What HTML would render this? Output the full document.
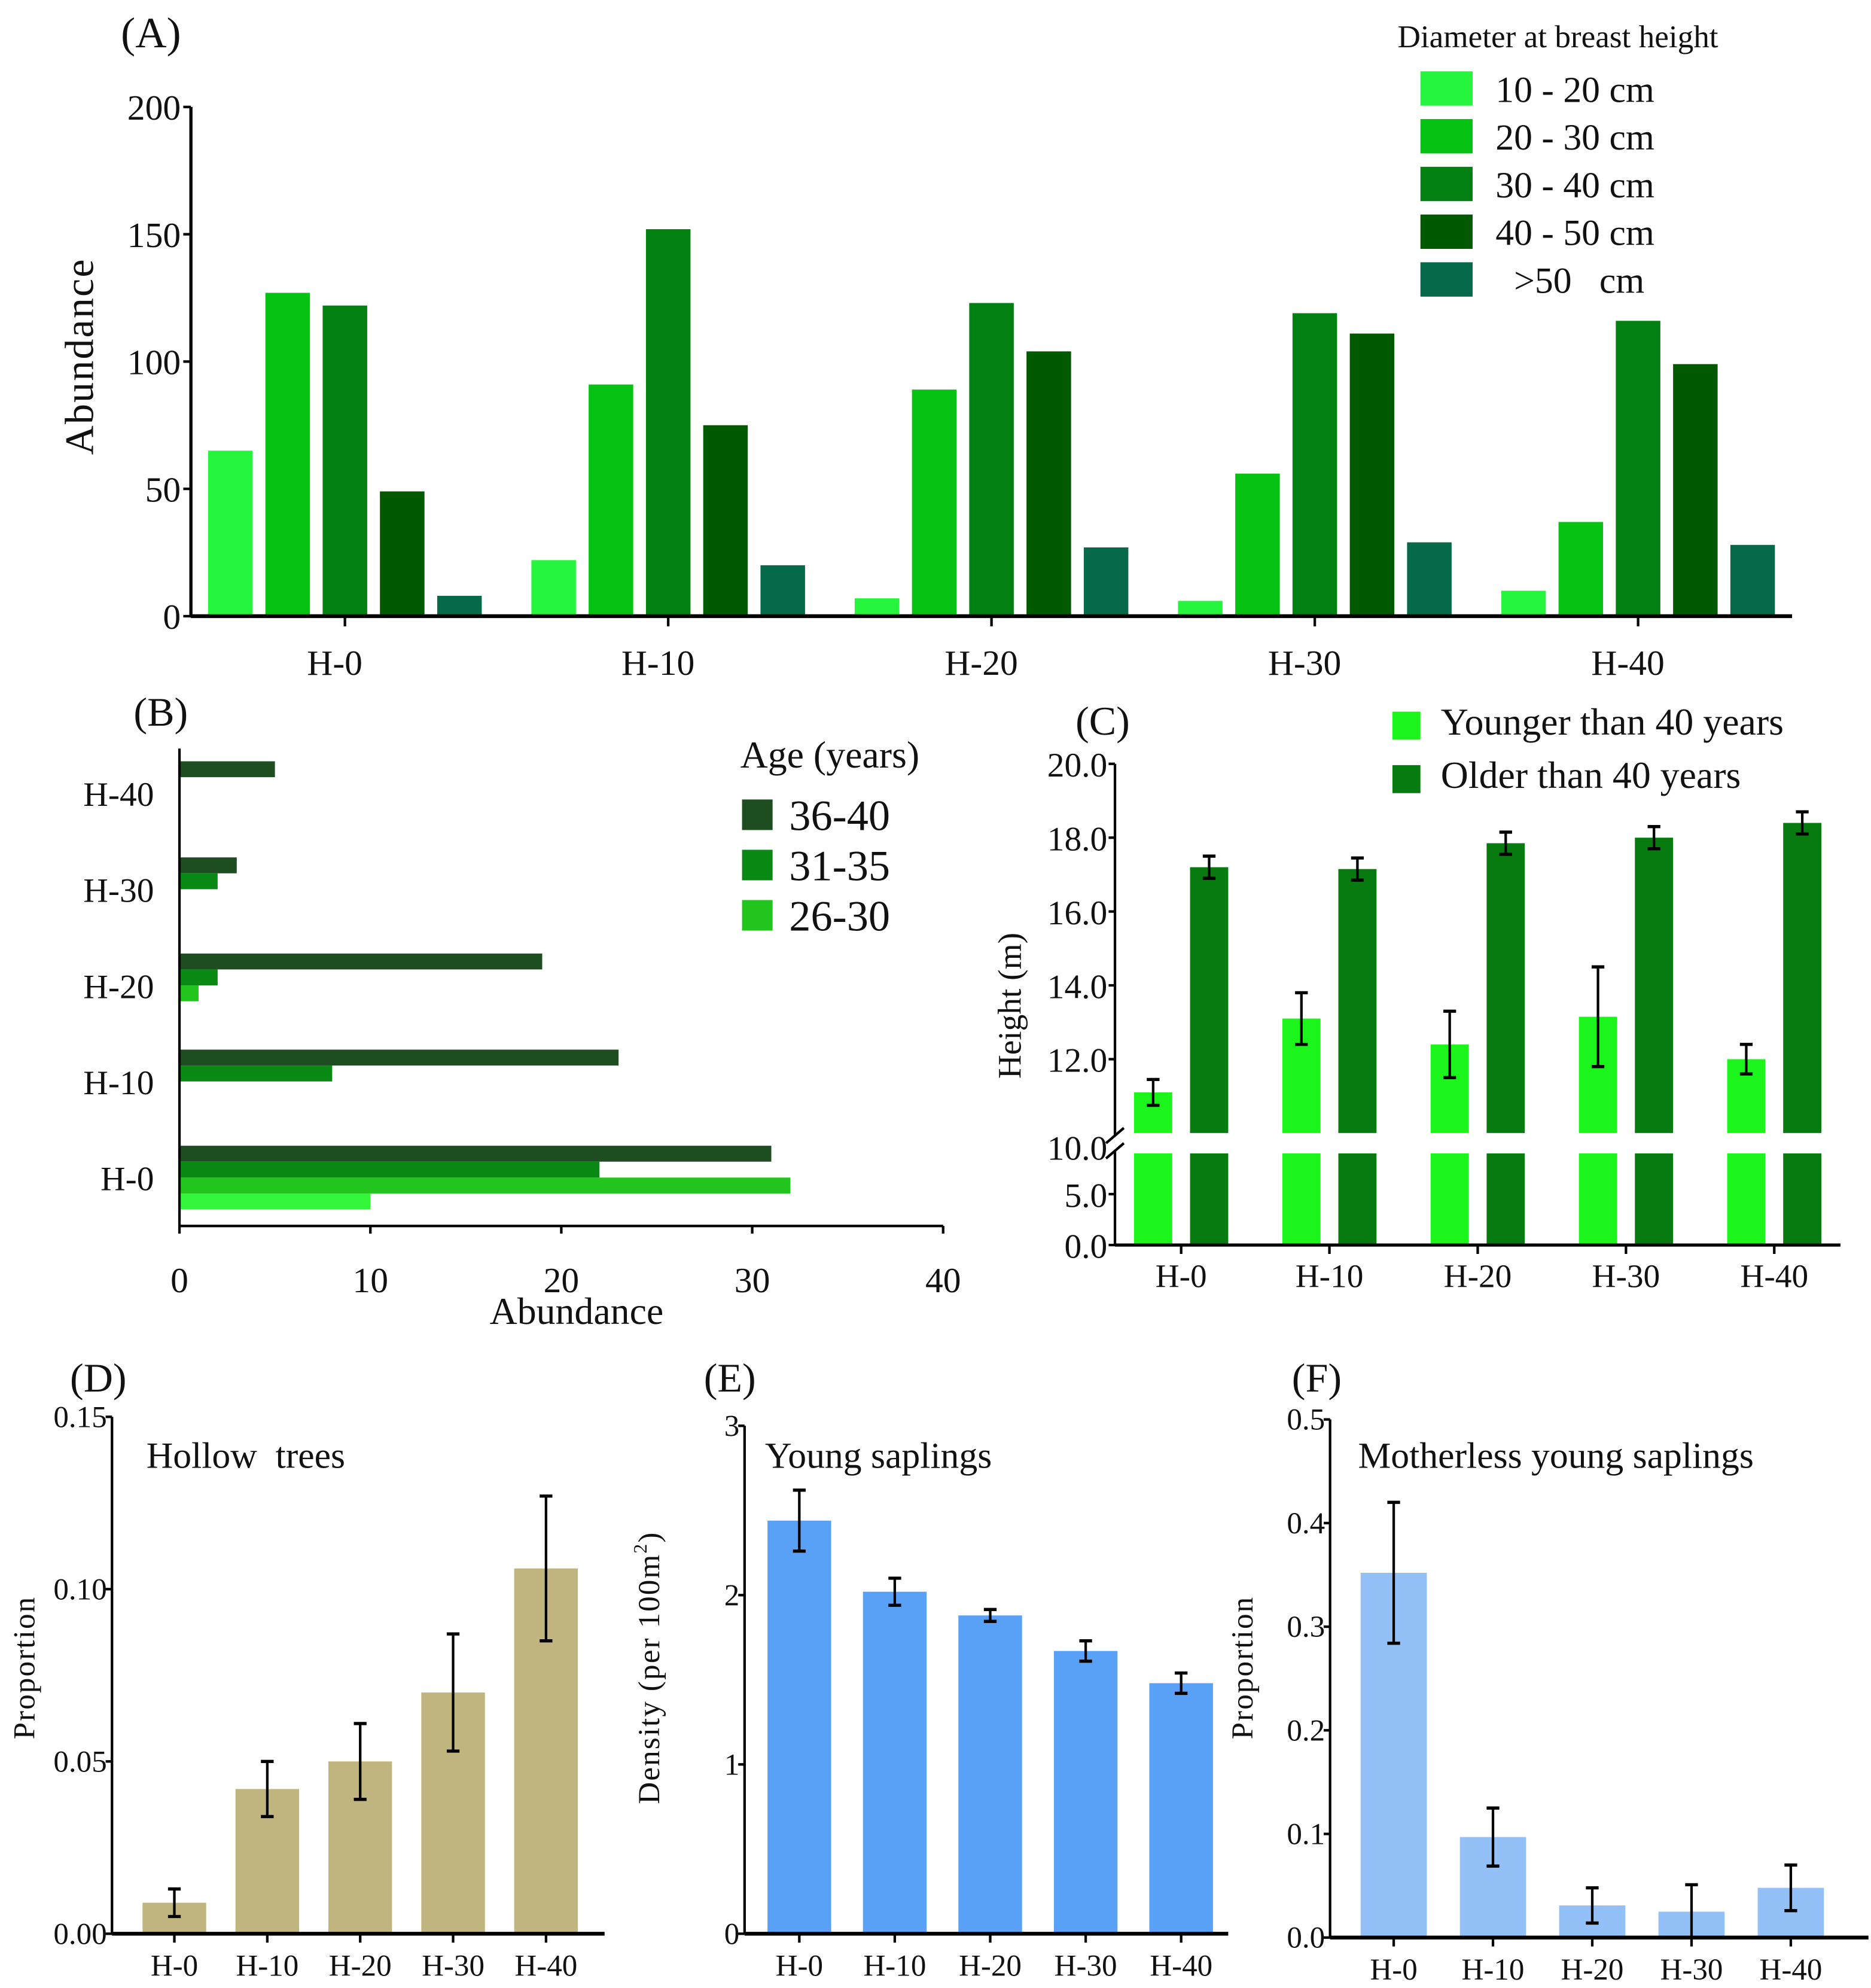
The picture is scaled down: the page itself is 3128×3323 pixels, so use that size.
<!DOCTYPE html>
<html><head><meta charset="utf-8"><style>
html,body{margin:0;padding:0;background:#fff}
svg{display:block;font-family:"Liberation Serif",serif}
</style></head><body>
<svg id="fig" width="3128" height="3323" viewBox="0 0 1470 1561.6" xmlns="http://www.w3.org/2000/svg">
<rect width="1470" height="1562" fill="#fff"/>
</svg>
<script>
// ---------- Panel A data ----------
const catsA = ['H-0','H-10','H-20','H-30','H-40'];
const dbhNames = ['10 - 20 cm','20 - 30 cm','30 - 40 cm','40 - 50 cm','\u00a0\u00a0>50\u00a0\u00a0\u00a0cm'];
const dbh10_20 = [65,22,7,6,10];
const dbh20_30 = [127,91,89,56,37];
const dbh30_40 = [122,152,123,119,116];
const dbh40_50 = [49,75,104,111,99];
const dbh50p   = [8,20,27,29,28];
const ticksA = [0,50,100,150,200];
// ---------- Panel B data ----------
const catsB = ['H-0','H-10','H-20','H-30','H-40'];
const age36_40 = [31,23,19,3,5];
const age31_35 = [22,8,2,2,0];
const age26_30 = [32,0,1,0,0];
const age21_25 = [10,0,0,0,0];
const ticksB = [0,10,20,30,40];
// ---------- Panel C data ----------
const catsC = ['H-0','H-10','H-20','H-30','H-40'];
const youngH = [11.1,13.1,12.4,13.15,12.0];
const youngErr = [0.35,0.7,0.9,1.35,0.4];
const oldH = [17.2,17.15,17.85,18.0,18.4];
const oldErr = [0.3,0.3,0.3,0.3,0.3];
const ticksCUpper = ['10.0','12.0','14.0','16.0','18.0','20.0'];
const ticksCLower = ['0.0','5.0'];
// ---------- Panel D/E/F data ----------
const catsD = ['H-0','H-10','H-20','H-30','H-40'];
const hollow = [0.009,0.042,0.050,0.070,0.106];
const hollowErr = [0.004,0.008,0.011,0.017,0.021];
const ticksD = ['0.00','0.05','0.10','0.15'];
const saplings = [2.44,2.02,1.88,1.67,1.48];
const saplingsErr = [0.18,0.08,0.035,0.06,0.06];
const ticksE = ['0','1','2','3'];
const motherless = [0.352,0.097,0.031,0.025,0.048];
const motherlessErr = [0.068,0.028,0.017,0.026,0.022];
const ticksF = ['0.0','0.1','0.2','0.3','0.4','0.5'];

const NS='http://www.w3.org/2000/svg';
const svg=document.getElementById('fig');
function mk(tag,at,parent){const e=document.createElementNS(NS,tag);for(const k in at)e.setAttribute(k,at[k]);(parent||svg).appendChild(e);return e;}
function txt(s,x,y,size,anchor,parent,extra){const t=mk('text',Object.assign({x:x,y:y,'font-size':size,'text-anchor':anchor||'start',fill:'#111'},extra||{}),parent);t.textContent=s;return t;}
function line(x1,y1,x2,y2,w,parent){return mk('line',{x1:x1,y1:y1,x2:x2,y2:y2,stroke:'#000','stroke-width':w||2},parent);}
function errBar(x,yTop,yBot,parent){const g=mk('g',{},parent);


line(x,yTop,x,yBot,2,g);line(x-5,yTop,x+5,yTop,2.5,g);line(x-5,yBot,x+5,yBot,2.5,g);}

// ================= Panel A =================
(function(){
const g=mk('g',{});


const x0=150,y0=484,ppu=2.0;
const yA=v=>y0-v*ppu;
const cx=i=>271+254*i;
const series=[dbh10_20,dbh20_30,dbh30_40,dbh40_50,dbh50p];
const cols=['#26f53d','#06c212','#038012','#015900','#06694a'];
const lab=txt('(A)',95,37,34,'start',g);


series.forEach((s,si)=>{s.forEach((v,i)=>{
 const bx=cx(i)+(si-2)*45-17.5;
 const r=mk('rect',{x:bx,y:yA(v),width:35,height:v*ppu,fill:cols[si]},g);
 
 
});});
const ax=line(x0,84,x0,y0+1,2.5,g);


const xa=line(x0,y0,1408,y0,3,g);


ticksA.forEach(t=>{line(x0-6,yA(t),x0,yA(t),2,g);
 const tl=txt(String(t),x0-8,yA(t)+10,28,'end',g);
 
 });
catsA.forEach((c,i)=>{line(cx(i),y0,cx(i),y0+8,2,g);
 const tl=txt(c,cx(i)-8,530,28,'middle',g);
 
 });
const yt=txt('Abundance',0,0,32,'middle',g,{transform:'translate(73,280) rotate(-90)','letter-spacing':'1'});


const lt=txt('Diameter at breast height',1224,37,25,'middle',g);


dbhNames.forEach((n,i)=>{const yy=56+37.5*i;
 const sw=mk('rect',{x:1116,y:yy,width:41,height:27,fill:cols[i]},g);
 
 
 const t=txt(n,1175,yy+24,29,'start',g);
 
 });
})();

// ================= Panel B =================
(function(){
const g=mk('g',{});


const x0=141,y0=963,ppu=15;
const xB=v=>x0+v*ppu;
const cy=i=>925-75.5*i;
const series=[age36_40,age31_35,age26_30,age21_25];
const cols=['#1e4d22','#0a8a14','#22c41e','#33f53a'];
const lab=txt('(B)',105,570,32,'start',g);


series.forEach((s,si)=>{s.forEach((v,i)=>{
 if(v<=0)return;
 const r=mk('rect',{x:x0,y:cy(i)-25+12.5*si,width:v*ppu,height:12.5,fill:cols[si]},g);
 
 
});});
const ya=line(x0,588,x0,y0,2,g);


const xa=line(x0,y0,741,y0,2,g);


ticksB.forEach(t=>{line(xB(t),y0,xB(t),y0+6,2,g);
 const tl=txt(String(t),xB(t),1015,28,'middle',g);
 
 });
catsB.forEach((c,i)=>{
 const tl=txt(c,121,cy(i)+10,27,'end',g);
 
 });
const xt=txt('Abundance',453,1040,30,'middle',g);


const lt=txt('Age (years)',652,603,30,'middle',g);


['36-40','31-35','26-30'].forEach((n,i)=>{const yy=628+39.5*i;
 const sw=mk('rect',{x:583,y:yy,width:24,height:24,fill:cols[i]},g);
 
 
 const t=txt(n,620,yy+24,34,'start',g);
 
 });
})();

// ================= Panel C =================
(function(){
const g=mk('g',{});


const x0=876,y0=978;
const yU=v=>890-(v-10)*29;
const cx=i=>928+116.5*i;
const lab=txt('(C)',845,577,32,'start',g);


const cols=['#1cf51c','#077b10'];
[[youngH,youngErr,-22],[oldH,oldErr,22]].forEach((sr,si)=>{
 sr[0].forEach((v,i)=>{
  const bx=cx(i)+sr[2]-15;
  const r1=mk('rect',{x:bx,y:yU(v),width:30,height:890-yU(v),fill:cols[si]},g);
  
  
  const r2=mk('rect',{x:bx,y:906,width:30,height:72,fill:cols[si]},g);
  
  
  errBar(cx(i)+sr[2],yU(v+sr[1][i]),yU(v-sr[1][i]),g);
 });
});
const ya1=line(x0,600,x0,892,2,g);


const ya2=line(x0,904,x0,y0,2,g);


const br=mk('path',{d:'M869 898 L883 886 M869 910 L883 898',stroke:'#000','stroke-width':2,fill:'none'},g);


const xa=line(x0,y0,1446,y0,2.5,g);


ticksCUpper.forEach(t=>{const v=parseFloat(t);const yy=v===10?901:yU(v);
 if(v!==10)line(x0-5,yy,x0,yy,2,g);
 const tl=txt(t,870,yy+10,27,'end',g);
 
 });
ticksCLower.forEach(t=>{const v=parseFloat(t);const yy=v===0?978:938;
 line(x0-5,yy,x0,yy,2,g);
 const tl=txt(t,870,yy+10,27,'end',g);
 
 });
catsC.forEach((c,i)=>{line(cx(i),y0,cx(i),y0+7,2,g);
 const tl=txt(c,cx(i),1011,26,'middle',g);
 
 });
const yt=txt('Height (m)',0,0,26,'middle',g,{transform:'translate(802,790) rotate(-90)'});


['Younger than 40 years','Older than 40 years'].forEach((n,i)=>{const yy=559+42*i;
 const sw=mk('rect',{x:1094,y:yy,width:22,height:22,fill:cols[i]},g);
 
 
 const t=txt(n,1132,yy+18,30,'start',g);
 
 });
})();

// ================= Panels D, E, F =================
function smallPanel(o){
 const g=mk('g',{});
 
 
 const y=v=>o.y0-v*o.ppu;
 const cx=i=>o.c0+o.step*i;
 const lab=txt(o.label,o.lx,1093,32,'start',g);
 
 
 o.vals.forEach((v,i)=>{
  const r=mk('rect',{x:cx(i)-o.bw/2,y:y(v),width:o.bw,height:v*o.ppu,fill:o.col},g);
  
  
  errBar(cx(i),y(v+o.errs[i]),y(Math.max(0,v-o.errs[i])),g);
 });
 const ya=line(o.x0,y(o.ymax),o.x0,o.y0,2,g);
 
 
 const xa=line(o.x0,o.y0,o.x1,o.y0,3,g);
 
 
 o.ticks.forEach(t=>{const v=parseFloat(t);line(o.x0-5,y(v),o.x0,y(v),2,g);
  const tl=txt(t,o.x0-4,y(v)+8,24,'end',g);
  
  });
 catsD.forEach((c,i)=>{line(cx(i),o.y0,cx(i),o.y0+7,2,g);
  const tl=txt(c,cx(i),o.y0+33,24,'middle',g);
  
  });
 const tt=txt(o.title,o.tx,1153,29,'start',g);
 
 
 const yt=txt(o.ytitle,0,0,24,'middle',g,{transform:'translate('+o.ytx+',1310) rotate(-90)','letter-spacing':'1'});
 
 
 return yt;
}
smallPanel({name:'panel-d',label:'(D)',lx:55,x0:88,x1:475,y0:1519,ppu:2707,ymax:0.15,c0:137,step:73,bw:50,
 vals:hollow,errs:hollowErr,ticks:ticksD,col:'#c0b57e',title:'Hollow\u00a0\u00a0trees',tx:115,ytitle:'Proportion',ytx:27});
const yE=smallPanel({name:'panel-e',label:'(E)',lx:553,x0:585,x1:965,y0:1519,ppu:133,ymax:3,c0:628,step:75,bw:50,
 vals:saplings,errs:saplingsErr,ticks:ticksE,col:'#58a1f7',title:'Young saplings',tx:601,ytitle:'',ytx:518});
yE.textContent='Density (per 100m';
const sup=mk('tspan',{'font-size':15,dy:-10},yE);
sup.textContent='2';


const cl=mk('tspan',{dy:10},yE);
cl.textContent=')';


smallPanel({name:'panel-f',label:'(F)',lx:1015,x0:1045,x1:1468,y0:1522,ppu:814,ymax:0.5,c0:1095,step:78,bw:52,
 vals:motherless,errs:motherlessErr,ticks:ticksF,col:'#92c0f7',title:'Motherless young saplings',tx:1067,ytitle:'Proportion',ytx:984});
</script>
</body></html>
